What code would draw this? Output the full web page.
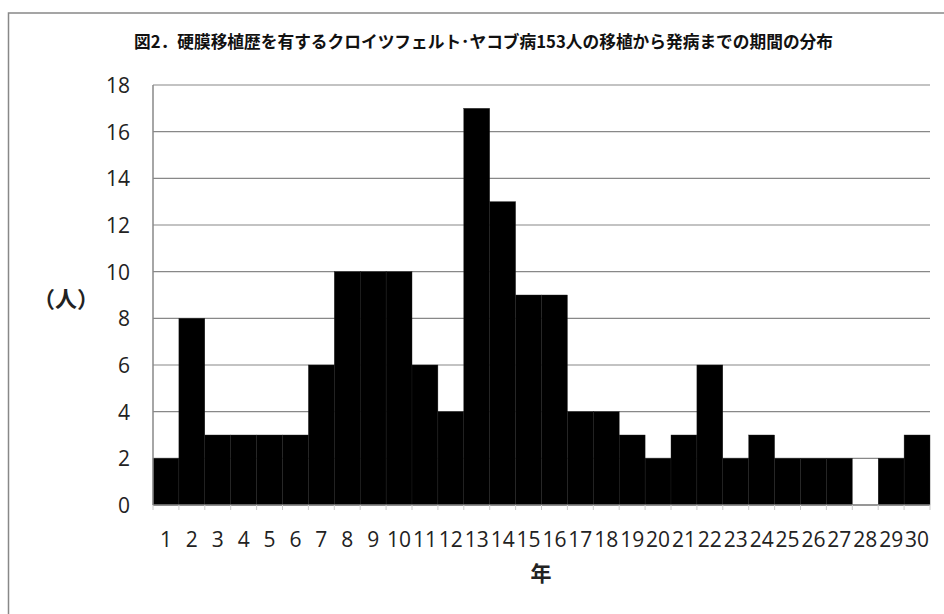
<!DOCTYPE html>
<html>
<head>
<meta charset="utf-8">
<script src="https://cdn.jsdelivr.net/npm/d3@7"></script>
<style>
	body { margin: 0; background: #fff; }
</style>
</head>
<body>
<div id="chart"></div>
<script>
// data
const years = d3.range(1, 31).map(String);
const counts = [2, 8, 3, 3, 3, 3, 6, 10, 10, 10, 6, 4, 17, 13, 9, 9, 4, 4, 3, 2, 3, 6, 2, 3, 2, 2, 2, 0, 2, 3];
const yTicks = [0, 2, 4, 6, 8, 10, 12, 14, 16, 18];

const title = "図2．硬膜移植歴を有するクロイツフェルト･ヤコブ病153人の移植から発病までの期間の分布";

const width = 944;
const height = 614;

const margin = {
	top: 85,
	bottom: 109,
	left: 153,
	right: 14,
};

const svg = d3
	.select("#chart")
	.append("svg")
	.attr("width", width)
	.attr("height", height);

// outer frame
svg
	.append("rect")
	.attr("x", 8.5)
	.attr("y", 13)
	.attr("width", 960)
	.attr("height", 640)
	.attr("fill", "none")
	.attr("stroke", "#888")
	.attr("stroke-width", 1.5);

const xScale = d3
	.scaleBand()
	.domain(years)
	.range([margin.left, width - margin.right])
	.padding(0);

const yScale = d3
	.scaleLinear()
	.domain([0, 18])
	.range([height - margin.bottom, margin.top]);

// gridlines
svg
	.append("g")
	.selectAll("line")
	.data(yTicks)
	.enter()
	.append("line")
	.attr("x1", margin.left)
	.attr("x2", width - margin.right)
	.attr("y1", (d) => yScale(d))
	.attr("y2", (d) => yScale(d))
	.attr("stroke", "#888")
	.attr("stroke-width", 1.2);

// bars
svg
	.append("g")
	.selectAll("rect")
	.data(counts)
	.enter()
	.append("rect")
	.attr("x", (d, i) => xScale(years[i]))
	.attr("y", (d) => yScale(d))
	.attr("width", xScale.bandwidth())
	.attr("height", (d) => yScale(0) - yScale(d))
	.attr("fill", "#000")
	.attr("stroke", "#222")
	.attr("stroke-width", 0.4);

// x axis with tick marks at category boundaries
const xAxis = svg
	.append("g")
	.attr("transform", `translate(0, ${yScale(0)})`);

xAxis
	.append("line")
	.attr("x1", margin.left)
	.attr("x2", width - margin.right)
	.attr("stroke", "#888")
	.attr("stroke-width", 1.5);

xAxis
	.selectAll("line.tick")
	.data(years.concat(["end"]))
	.enter()
	.append("line")
	.attr("class", "tick")
	.attr("x1", (d, i) => margin.left + i * xScale.bandwidth())
	.attr("x2", (d, i) => margin.left + i * xScale.bandwidth())
	.attr("y1", 0)
	.attr("y2", 5)
	.attr("stroke", "#ccc")
	.attr("stroke-width", 1);

xAxis
	.selectAll("text")
	.data(years)
	.enter()
	.append("text")
	.attr("x", (d) => xScale(d) + xScale.bandwidth() / 2)
	.attr("y", 42)
	.style("text-anchor", "middle")
	.style("font-family", "'Open Sans', 'Noto Sans', sans-serif")
	.style("font-size", "21px")
	.style("fill", "#222")
	.text((d) => d);

// y axis
svg
	.append("line")
	.attr("x1", margin.left)
	.attr("x2", margin.left)
	.attr("y1", yScale(0))
	.attr("y2", yScale(18))
	.attr("stroke", "#888")
	.attr("stroke-width", 1.5);

svg
	.append("g")
	.selectAll("text")
	.data(yTicks)
	.enter()
	.append("text")
	.attr("x", 130)
	.attr("y", (d) => yScale(d) + 8)
	.style("text-anchor", "end")
	.style("font-family", "'Open Sans', 'Noto Sans', sans-serif")
	.style("font-size", "21px")
	.style("fill", "#222")
	.text((d) => d);

// title
svg
	.append("text")
	.attr("x", 134)
	.attr("y", 48)
	.attr("textLength", 699)
	.attr("lengthAdjust", "spacingAndGlyphs")
	.style("font-family", "'Noto Sans CJK JP', sans-serif")
	.style("font-weight", "bold")
	.style("font-size", "17px")
	.style("fill", "#111")
	.text(title);

// axis labels
svg
	.append("text")
	.attr("x", 66)
	.attr("y", 307)
	.style("text-anchor", "middle")
	.style("font-family", "'Noto Sans CJK JP', sans-serif")
	.style("font-weight", "bold")
	.style("font-size", "22px")
	.style("fill", "#222")
	.text("（人）");

svg
	.append("text")
	.attr("x", 541)
	.attr("y", 581)
	.style("text-anchor", "middle")
	.style("font-family", "'Noto Sans CJK JP', sans-serif")
	.style("font-weight", "bold")
	.style("font-size", "21px")
	.style("fill", "#222")
	.text("年");
</script>
</body>
</html>
